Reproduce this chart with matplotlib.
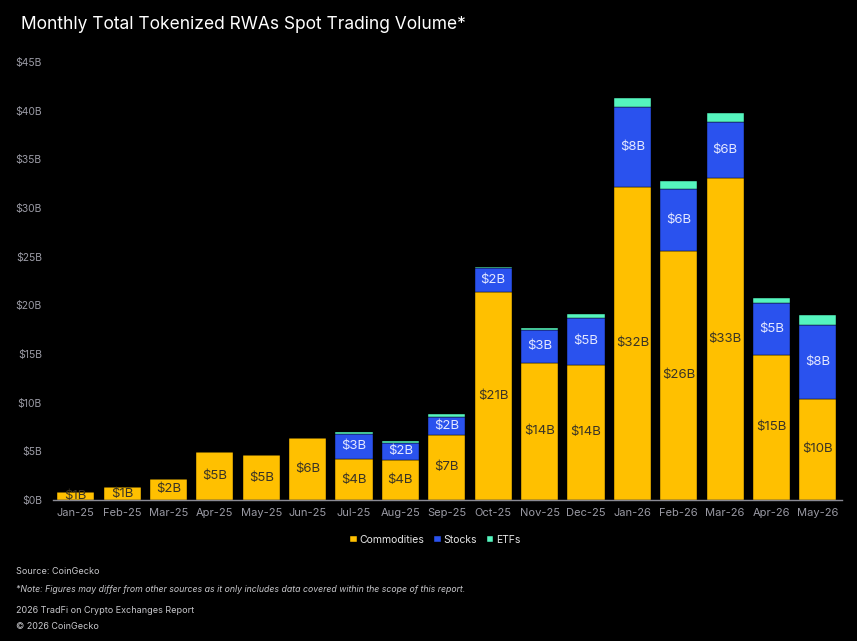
import matplotlib
matplotlib.use("Agg")
import matplotlib.pyplot as plt
import numpy as np

plt.rcParams["font.family"] = ["Inter", "DejaVu Sans"]

# data (in $B)
months = ["Jan-25", "Feb-25", "Mar-25", "Apr-25", "May-25", "Jun-25", "Jul-25",
          "Aug-25", "Sep-25", "Oct-25", "Nov-25", "Dec-25", "Jan-26", "Feb-26",
          "Mar-26", "Apr-26", "May-26"]
commodities = [0.8, 1.3, 2.2, 4.9, 4.6, 6.4, 4.2, 4.1, 6.7, 21.4, 14.1, 13.9,
               32.2, 25.6, 33.1, 14.9, 10.4]
stocks = [0, 0, 0, 0, 0, 0, 2.6, 1.8, 1.8, 2.4, 3.4, 4.8, 8.2, 6.4, 5.8, 5.3, 7.6]
etfs = [0, 0, 0, 0, 0, 0, 0.2, 0.2, 0.3, 0.1, 0.2, 0.4, 0.9, 0.8, 0.9, 0.6, 1.0]
yticks = [0, 5, 10, 15, 20, 25, 30, 35, 40, 45]

BG = "#000000"
GOLD = "#FFC000"
BLUE = "#2A52EE"
MINT = "#55F5BE"
TICK = "#9a9aa4"

fig = plt.figure(figsize=(8.57, 6.41), dpi=100, facecolor=BG)
ax = fig.add_axes([0.0618, 0.22, 0.9207, 0.683])
ax.set_facecolor(BG)

x = np.arange(len(months))
com = np.array(commodities)
stk = np.array(stocks)
etf = np.array(etfs)
w = 0.8

ax.bar(x, com, w, color=GOLD, label="Commodities", edgecolor=BG, linewidth=0.3)
ax.bar(x, stk, w, bottom=com, color=BLUE, label="Stocks", edgecolor=BG, linewidth=0.3)
ax.bar(x, etf, w, bottom=com + stk, color=MINT, label="ETFs", edgecolor=BG, linewidth=0.3)

# segment labels
for i in range(len(months)):
    ax.text(x[i], com[i] / 2, f"${com[i]:.0f}B", ha="center", va="center",
            fontsize=9.5, color="#3a3426")
    if stk[i] > 0:
        ax.text(x[i], com[i] + stk[i] / 2, f"${stk[i]:.0f}B", ha="center",
                va="center", fontsize=9.5, color="#e4e8ff")

ax.set_xlim(-0.49, 16.52)
ax.set_ylim(0, 45)
ax.set_xticks(x)
ax.set_xticklabels(months, fontsize=8, color=TICK)
ax.set_yticks(yticks)
ax.set_yticklabels([f"${v}B" for v in yticks], fontsize=7.5, color=TICK)
ax.tick_params(axis="both", length=0)
ax.tick_params(axis="x", pad=6)
ax.tick_params(axis="y", pad=8)
for s in ["top", "right", "left"]:
    ax.spines[s].set_visible(False)
ax.spines["bottom"].set_color("#8a8a94")
ax.spines["bottom"].set_linewidth(1.0)

fig.text(0.025, 0.961, "Monthly Total Tokenized RWAs Spot Trading Volume*",
         fontsize=12.5, color="white", ha="left", va="center")

leg = fig.legend(loc="center", bbox_to_anchor=(0.508, 0.158), ncol=3,
                 frameon=False, fontsize=7.5, handlelength=0.6, handleheight=0.6,
                 handletextpad=0.25, columnspacing=1.0)
for t in leg.get_texts():
    t.set_color("#e6e6e6")

foot = "#c8c8cc"
fig.text(0.019, 0.108, "Source: CoinGecko", fontsize=6.5, color=foot, va="center")
fig.text(0.019, 0.081, "*Note: Figures may differ from other sources as it only includes "
         "data covered within the scope of this report.", fontsize=6.3,
         color=foot, style="italic", va="center")
fig.text(0.019, 0.047, "2026 TradFi on Crypto Exchanges Report", fontsize=6.5,
         color=foot, va="center")
fig.text(0.019, 0.022, "\u00a9 2026 CoinGecko", fontsize=6.5, color=foot, va="center")

fig.savefig("out.png", dpi=100, facecolor=BG)
